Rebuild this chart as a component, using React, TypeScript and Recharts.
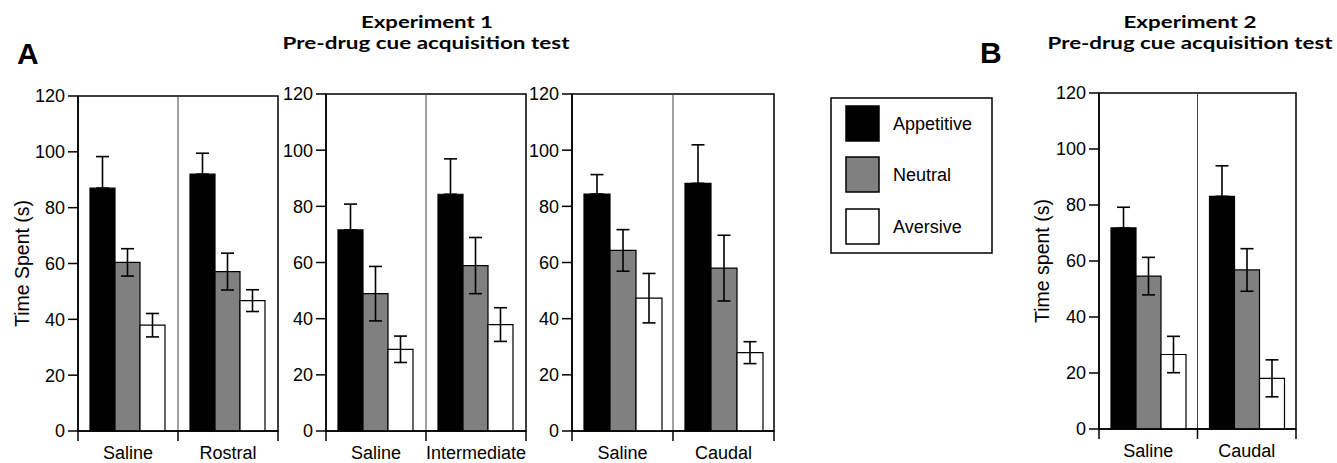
import React from "react";
import {
  BarChart,
  Bar,
  XAxis,
  YAxis,
  ErrorBar,
  ReferenceLine,
  ReferenceArea,
} from "recharts";

// one entry per panel: A1, A2, A3, B
const groupLabels = [
  ["Saline", "Rostral"],
  ["Saline", "Intermediate"],
  ["Saline", "Caudal"],
  ["Saline", "Caudal"],
];
const appetitive = [
  [87, 92],
  [71.6, 84.3],
  [84.4, 88.2],
  [71.8, 83.1],
];
const appetitiveErr = [
  [11.3, 7.5],
  [9.2, 12.6],
  [6.9, 13.7],
  [7.4, 10.9],
];
const neutral = [
  [60.4, 57.1],
  [48.9, 58.9],
  [64.3, 58],
  [54.6, 56.8],
];
const neutralErr = [
  [4.9, 6.6],
  [9.7, 10],
  [7.4, 11.7],
  [6.7, 7.6],
];
const aversive = [
  [37.9, 46.7],
  [29.1, 37.9],
  [47.3, 27.9],
  [26.6, 18.1],
];
const aversiveErr = [
  [4.2, 3.9],
  [4.7, 6],
  [8.8, 3.9],
  [6.5, 6.6],
];
const yTicks = [0, 20, 40, 60, 80, 100, 120];
const seriesNames = ["Appetitive", "Neutral", "Aversive"];
const seriesColors = ["#000000", "#808080", "#ffffff"];

const SANS = "'Liberation Sans', Arial, Helvetica, sans-serif";
const TITLE = "Lato, 'Open Sans', sans-serif";

// where each panel's plot sits on the page
const panels = [
  { left: 0, axisW: 78, plotW: 200, top: 96, bottom: 431, yLabel: "Time Spent (s)", labelX: 22 },
  { left: 276, axisW: 50, plotW: 200, top: 94, bottom: 431, yLabel: "", labelX: 0 },
  { left: 522, axisW: 50, plotW: 202, top: 94, bottom: 431, yLabel: "", labelX: 0 },
  { left: 1019, axisW: 80, plotW: 197, top: 93, bottom: 429, yLabel: "Time spent (s)", labelX: 23 },
];

function buildRows(p: number) {
  return groupLabels[p].map((label, i) => ({
    label,
    appetitive: appetitive[p][i],
    appetitiveErr: [0, appetitiveErr[p][i]],
    neutral: neutral[p][i],
    neutralErr: neutralErr[p][i],
    aversive: aversive[p][i],
    aversiveErr: aversiveErr[p][i],
  }));
}

const H = 463;
const X_H = 30;

// label at band centre, tick marks at band edges
function makeTick(bandHalf: number, count: number) {
  return function CatTick(props: any) {
    const { x, y, payload, index } = props;
    const half = payload && payload.offset ? payload.offset : bandHalf;
    return (
      <g>
        <line x1={x - half} x2={x - half} y1={y} y2={y + 10} stroke="#000" strokeWidth={1.5} />
        {index === count - 1 && (
          <line x1={x + half} x2={x + half} y1={y} y2={y + 10} stroke="#000" strokeWidth={1.5} />
        )}
        <text x={x} y={y + 27.5} textAnchor="middle" fontSize={18} fill="#000" fontFamily={SANS}>
          {payload.value}
        </text>
      </g>
    );
  };
}

function Panel({ idx }: { idx: number }) {
  const cfg = panels[idx];
  const rows = buildRows(idx);
  const W = cfg.axisW + cfg.plotW + 30;
  const keys = ["appetitive", "neutral", "aversive"];
  return (
    <div style={{ position: "absolute", left: cfg.left, top: 0 }}>
      <BarChart
        width={W}
        height={H}
        data={rows}
        margin={{ top: cfg.top, right: 30, bottom: H - cfg.bottom - X_H, left: 0 }}
        barCategoryGap={12}
        barGap={0}
      >
        <XAxis
          dataKey="label"
          height={X_H}
          axisLine={{ stroke: "#000", strokeWidth: 1.5 }}
          tickLine={false}
          tickSize={0}
          tickMargin={0}
          interval={0}
          tick={makeTick(cfg.plotW / 4, rows.length)}
        />
        <YAxis
          type="number"
          domain={[0, 120]}
          ticks={yTicks}
          width={cfg.axisW}
          tickSize={10}
          tickMargin={3}
          interval={0}
          axisLine={{ stroke: "#000", strokeWidth: 1.5 }}
          tickLine={{ stroke: "#000", strokeWidth: 1.5 }}
          tick={{ fontSize: 18, fill: "#000", fontFamily: SANS }}
          label={
            cfg.yLabel
              ? {
                  value: cfg.yLabel,
                  angle: -90,
                  position: "insideLeft",
                  offset: cfg.labelX,
                  textAnchor: "middle",
                  style: { fontSize: 19.5, fill: "#000", fontFamily: SANS },
                }
              : undefined
          }
        />
        <ReferenceArea
          y1={0}
          y2={120}
          fill="none"
          fillOpacity={0}
          stroke="#000"
          strokeWidth={1.5}
        />
        <ReferenceLine
          x={groupLabels[idx][0]}
          position="end"
          stroke="#444"
          strokeWidth={1}
        />
        {keys.map((k, i) => (
          <Bar
            key={k}
            dataKey={k}
            name={seriesNames[i]}
            fill={seriesColors[i]}
            stroke="#000"
            strokeWidth={1.2}
            isAnimationActive={false}
          >
            <ErrorBar
              dataKey={k + "Err"}
              width={6.5}
              stroke="#000"
              strokeWidth={1.6}
              isAnimationActive={false}
            />
          </Bar>
        ))}
      </BarChart>
    </div>
  );
}

function Overlay() {
  const swatchY = [106, 157, 209];
  return (
    <svg
      width={1337}
      height={H}
      style={{ position: "absolute", left: 0, top: 0, pointerEvents: "none" }}
    >
      <text x={17} y={64} fontSize={30} fontWeight={700} fontFamily={SANS}>
        A
      </text>
      <text x={980} y={63} fontSize={30} fontWeight={700} fontFamily={SANS}>
        B
      </text>
      <g fontFamily={TITLE} fontWeight={700} fontSize={17.5} textAnchor="middle">
        <text x={427} y={28} textLength={132} lengthAdjust="spacingAndGlyphs">
          Experiment 1
        </text>
        <text x={426} y={49} textLength={287} lengthAdjust="spacingAndGlyphs">
          Pre-drug cue acquisition test
        </text>
        <text x={1190} y={28} textLength={133} lengthAdjust="spacingAndGlyphs">
          Experiment 2
        </text>
        <text x={1190} y={49} textLength={285} lengthAdjust="spacingAndGlyphs">
          Pre-drug cue acquisition test
        </text>
      </g>
      <rect x={831} y={98} width={161} height={155} fill="none" stroke="#000" strokeWidth={1.5} />
      {seriesNames.map((n, i) => (
        <g key={n}>
          <rect
            x={846}
            y={swatchY[i]}
            width={33}
            height={35}
            fill={seriesColors[i]}
            stroke="#000"
            strokeWidth={1.5}
          />
          <text x={893} y={swatchY[i] + 24} fontSize={18} fontFamily={SANS}>
            {n}
          </text>
        </g>
      ))}
    </svg>
  );
}

export default function App() {
  return (
    <div
      style={{
        position: "absolute",
        left: 0,
        top: 0,
        width: 1337,
        height: H,
        background: "#fff",
        overflow: "hidden",
      }}
    >
      {panels.map((_, i) => (
        <Panel key={i} idx={i} />
      ))}
      <Overlay />
    </div>
  );
}
